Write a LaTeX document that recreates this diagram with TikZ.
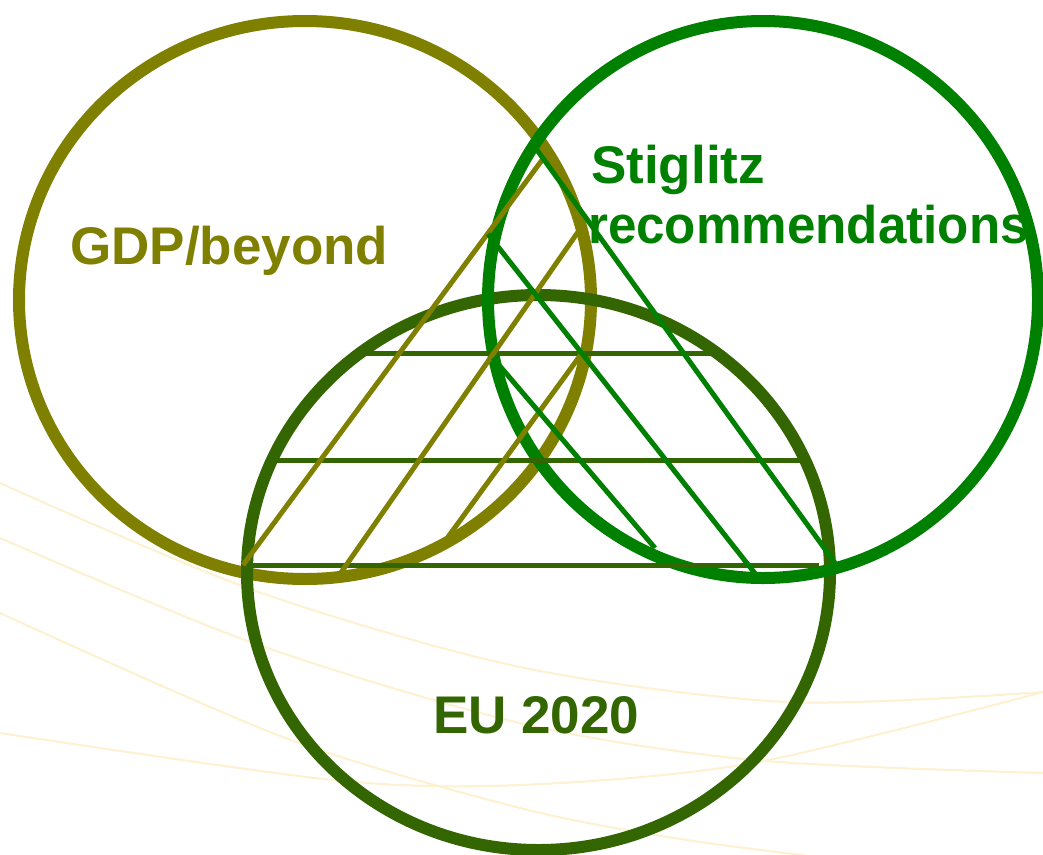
\documentclass[tikz,border=0pt]{standalone}
\usepackage{fontspec}
\setmainfont{Liberation Sans}
\definecolor{gdpcol}{HTML}{808000}
\definecolor{stigcol}{HTML}{008000}
\definecolor{eucol}{HTML}{336600}
\definecolor{bgline}{RGB}{254,241,208}
\tikzset{
  ring/.style={line width=12pt},
  hatch/.style={line width=5pt},
  bgcurve/.style={draw=bgline, line width=2pt},
  label/.style={font=\bfseries\fontsize{53}{62}\selectfont, inner sep=0pt, anchor=base west}
}
\begin{document}
\begin{tikzpicture}[x=1pt,y=-1pt]
\useasboundingbox (0,0) rectangle (1043,854);
\fill[white] (0,0) rectangle (1043,854);
% faint background curves
\draw[bgcurve] plot[smooth] coordinates {(0,483) (253,590) (520,667) (787,702) (1043,692)};
\draw[bgcurve] plot[smooth] coordinates {(0,538) (253,643) (520,723) (753,760) (1043,773)};
\draw[bgcurve] plot[smooth] coordinates {(0,613) (283,737) (520,808) (687,840) (860,862)};
\draw[bgcurve] plot[smooth] coordinates {(0,733) (333,780) (520,785) (753,763) (1043,692)};
% circles
\draw[ring, draw=gdpcol] (305,300) ellipse [x radius=286, y radius=279];
\draw[ring, draw=eucol] (538.5,572.5) ellipse [x radius=291.5, y radius=277.5];
\draw[ring, draw=stigcol] (763,299.5) ellipse [x radius=275, y radius=278.5];
% triangle coordinates
\coordinate (h1a) at (366,353); \coordinate (h1b) at (713,353);
\coordinate (h2a) at (275,460); \coordinate (h2b) at (800,460);
\coordinate (h3a) at (243,565); \coordinate (h3b) at (819,565);
\coordinate (oa1) at (243,565); \coordinate (oa2) at (545,156);
\coordinate (ob1) at (340,574); \coordinate (ob2) at (578,232);
\coordinate (oc1) at (448,537); \coordinate (oc2) at (582,353);
\coordinate (g11) at (537,150); \coordinate (g12) at (835,563);
\coordinate (g21) at (488,234); \coordinate (g22) at (757,576);
\coordinate (g31) at (493,358); \coordinate (g32) at (655,548);
% horizontal lines
\draw[hatch, draw=eucol] (h1a) -- (h1b);
\draw[hatch, draw=eucol] (h2a) -- (h2b);
\draw[hatch, draw=eucol] (h3a) -- (h3b);
% olive lines
\draw[hatch, draw=gdpcol] (oa1) -- (oa2);
\draw[hatch, draw=gdpcol] (ob1) -- (ob2);
\draw[hatch, draw=gdpcol] (oc1) -- (oc2);
% green lines
\draw[hatch, draw=stigcol] (g11) -- (g12);
\draw[hatch, draw=stigcol] (g21) -- (g22);
\draw[hatch, draw=stigcol] (g31) -- (g32);
% labels
\node[label, text=gdpcol] (gdp) at (70,264) {GDP/beyond};
\node[label, text=stigcol] (stig) at (591,183) {Stiglitz};
\node[label, text=stigcol] (rec) at (588,243) {\scalebox{0.965}[1]{recommendations}};
\node[label, text=eucol] (eu) at (433,733) {EU 2020};
\end{tikzpicture}
\end{document}
